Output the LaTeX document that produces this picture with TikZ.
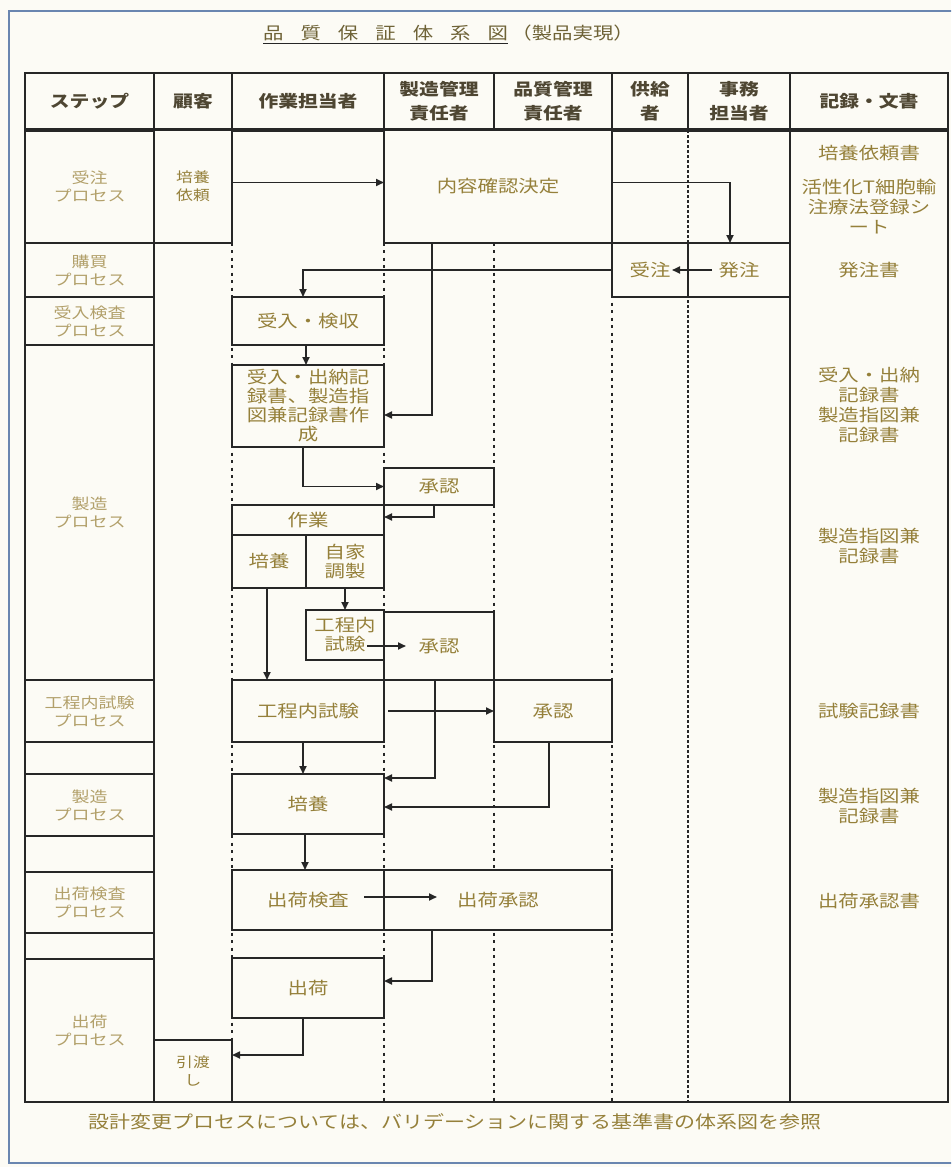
\documentclass[tikz,border=0pt]{standalone}
\usepackage{fontspec}
\setmainfont{Noto Sans CJK JP}[FakeStretch=1.2]
\usetikzlibrary{arrows.meta}

\definecolor{paper}{HTML}{FCFBF5}
\definecolor{ink}{HTML}{262626}
\definecolor{headtext}{HTML}{4E4632}
\definecolor{titletext}{HTML}{6E6236}
\definecolor{goldtext}{HTML}{95803A}
\definecolor{paletext}{HTML}{B2A06A}
\definecolor{framecol}{HTML}{6A86B0}

% box spanning (x1,y1)--(x2,y2): [opts]{name}{x1}{y1}{x2}{y2}{text}
\newcommand{\area}[7][]{%
  \node[box, minimum width={#5-#3}, minimum height={#6-#4}, #1] (#2)
    at ({(#3+#5)/2},{(#4+#6)/2}) {#7};%
}

\begin{document}
\begin{tikzpicture}[x=1pt, y=-1pt]
    % Define styles
    \tikzset{
        box/.style={
            draw=ink,
            line width=2pt,
            fill=paper,
            inner sep=0pt,
            outer sep=0pt,
            align=center,
            text=goldtext,
            font=\fontsize{17}{19}\selectfont
        },
        head/.style={
            fill=none,
            text=headtext,
            font=\fontsize{16.5}{24}\selectfont\bfseries
        },
        stepcell/.style={
            fill=none,
            text=paletext,
            font=\fontsize{15}{18}\selectfont
        },
        client/.style={
            font=\fontsize{14}{18}\selectfont
        },
        lane/.style={
            ink,
            line width=2.4pt,
            dash pattern=on 3pt off 4.5pt
        },
        lanedense/.style={
            ink,
            line width=2.4pt,
            dash pattern=on 3pt off 2pt
        },
        arr/.style={
            ink,
            line width=1.7pt,
            -{Triangle[length=8pt,width=7pt]}
        },
        rec/.style={
            text=goldtext,
            align=center,
            inner sep=0pt,
            font=\fontsize{17}{20}\selectfont
        }
    }

    % Paper and frame
    \useasboundingbox (0,0) rectangle (951,1167);
    \fill[paper] (0,0) rectangle (951,1167);
    \clip (0,0) rectangle (951,1167);
    \draw[framecol, line width=2pt] (9,11) rectangle (962,1163);

    % Title
    \node[anchor=west, inner sep=0pt, text=titletext, font=\fontsize{17}{20}\selectfont] (title) at (263,33)
        {品\hspace{17pt}質\hspace{17pt}保\hspace{17pt}証\hspace{17pt}体\hspace{17pt}系\hspace{17pt}図};
    \node[anchor=west, inner sep=0pt, text=titletext, font=\fontsize{17}{20}\selectfont] (subtitle)
        at ([xshift=3pt]title.east) {（製品実現）};
    \draw[ink, line width=1.6pt] ([yshift=-2.5pt]title.south west) -- ([yshift=-2.5pt]title.south east);

    % Swim lanes
    \foreach \x in {232,384,494,612}
        \draw[lane] (\x,130) -- (\x,1102);
    \draw[lanedense] (688,130) -- (688,1102);

    % Table frame and header
    \draw[ink, line width=2.4pt] (25,73) rectangle (948,1102);
    \draw[ink, line width=2pt] (790,130) -- (790,1102);
    \area[head]{hStep}{25}{73}{154}{130}{ステップ}
    \area[head]{hKokyaku}{154}{73}{232}{130}{顧客}
    \area[head]{hSagyo}{232}{73}{384}{130}{作業担当者}
    \area[head]{hSeizo}{384}{73}{494}{130}{製造管理\\責任者}
    \area[head]{hHinshitsu}{494}{73}{612}{130}{品質管理\\責任者}
    \area[head]{hKyokyu}{612}{73}{688}{130}{供給\\者}
    \area[head]{hJimu}{688}{73}{790}{130}{事務\\担当者}
    \area[head]{hKiroku}{790}{73}{948}{130}{記録・文書}
    \draw[ink, line width=3.4pt] (hStep.south west) -- (hKiroku.south east);

    % Step column
    \foreach \nm/\ya/\yb/\txt in {s1/130/243/{受注\\プロセス}, s2/243/297/{購買\\プロセス},
            s3/297/345/{受入検査\\プロセス}, s4/345/680/{製造\\プロセス},
            s5/680/742/{工程内試験\\プロセス}, s6/742/774/{}, s7/774/836/{製造\\プロセス},
            s8/836/872/{}, s9/872/933/{出荷検査\\プロセス}, s10/933/959/{},
            s11/959/1102/{出荷\\プロセス}}
        {\area[stepcell]{\nm}{25}{\ya}{154}{\yb}{\txt}}

    % Customer column
    \area[client]{irai}{154}{130}{232}{243}{培養\\依頼}
    \area[client]{hikiwatashi}{154}{1040}{232}{1102}{引渡\\し}

    % Process boxes
    \area{naiyo}{384}{130}{612}{243}{内容確認決定}
    \area{juchu}{612}{243}{688}{297}{受注}
    \area{hatchu}{688}{243}{790}{297}{発注}
    \area{kenshu}{232}{297}{384}{345}{受入・検収}
    \area{suitou}{232}{365}{384}{447}{受入・出納記\\録書、製造指\\図兼記録書作\\成}
    \area{shonin1}{384}{468}{494}{505}{承認}
    \area{sagyo}{232}{505}{384}{535}{作業}
    \area{baiyo1}{232}{535}{306}{588}{培養}
    \area{jika}{306}{535}{384}{588}{自家\\調製}
    \area{koteiS}{306}{610}{384}{660}{工程内\\試験}
    \area{shonin2}{384}{612}{494}{680}{承認}
    \area{kotei}{232}{680}{384}{742}{工程内試験}
    \area{shonin3}{494}{680}{612}{742}{承認}
    \area{baiyo2}{232}{774}{384}{834}{培養}
    \area{shukkaK}{232}{870}{384}{930}{出荷検査}
    \area{shukkaS}{384}{870}{612}{930}{出荷承認}
    \area{shukka}{232}{958}{384}{1018}{出荷}

    % Records column
    \node[rec] (r1) at (869,153) {培養依頼書};
    \node[rec] (r2) at (869,207) {活性化T細胞輸\\注療法登録シ\\ート};
    \node[rec] (r3) at (869,270) {発注書};
    \node[rec] (r4) at (869,405) {受入・出納\\記録書\\製造指図兼\\記録書};
    \node[rec] (r5) at (869,546) {製造指図兼\\記録書};
    \node[rec] (r6) at (869,711) {試験記録書};
    \node[rec] (r7) at (869,806) {製造指図兼\\記録書};
    \node[rec] (r8) at (869,901) {出荷承認書};

    % Flow arrows
    \draw[arr] ([yshift=4pt]irai.east) -- ([yshift=4pt]naiyo.west);
    \draw[arr] ([yshift=4pt]naiyo.east) -| ([xshift=-9pt]hatchu.north);
    \draw[arr] ([xshift=24pt]hatchu.west) -- ([xshift=-16pt]juchu.east);
    \draw[arr] (juchu.west) -| ([xshift=-5pt]kenshu.north);
    \draw[arr] ([xshift=-66pt]naiyo.south) |- ([yshift=-9pt]suitou.east);
    \draw[arr] ([xshift=-2pt]kenshu.south) -- ([xshift=-2pt]suitou.north);
    \draw[arr] ([xshift=-5pt]suitou.south) |- (shonin1.west);
    \draw[arr] ([xshift=-5pt]shonin1.south) |- ([yshift=3pt]sagyo.east);
    \draw[arr] (jika.south) -- (koteiS.north);
    \draw[arr] ([xshift=-17pt,yshift=-11pt]koteiS.east) -- ([xshift=22pt]shonin2.west);
    \draw[arr] ([xshift=-2pt]baiyo1.south) -- ([xshift=-2pt]baiyo1.south |- kotei.north);
    \draw[arr] ([xshift=-4pt]shonin2.south) |- ([yshift=26pt]baiyo2.east);
    \draw[arr] ([xshift=4pt]kotei.east) -- (shonin3.west);
    \draw[arr] ([xshift=-5pt]kotei.south) -- ([xshift=-5pt]baiyo2.north);
    \draw[arr] ([xshift=-4pt]shonin3.south) |- ([yshift=-3pt]baiyo2.east);
    \draw[arr] ([xshift=-3pt]baiyo2.south) -- ([xshift=-3pt]shukkaK.north);
    \draw[arr] ([xshift=-20pt,yshift=3pt]shukkaK.east) -- ([xshift=53pt,yshift=3pt]shukkaS.west);
    \draw[arr] ([xshift=-66pt]shukkaS.south) |- ([yshift=7pt]shukka.east);
    \draw[arr] ([xshift=-5pt]shukka.south) |- ([yshift=16pt]hikiwatashi.east);

    % Footnote
    \node[anchor=west, inner sep=0pt, text=goldtext, font=\fontsize{17.5}{20}\selectfont] (note) at (88,1122)
        {設計変更プロセスについては、バリデーションに関する基準書の体系図を参照};

\end{tikzpicture}
\end{document}
